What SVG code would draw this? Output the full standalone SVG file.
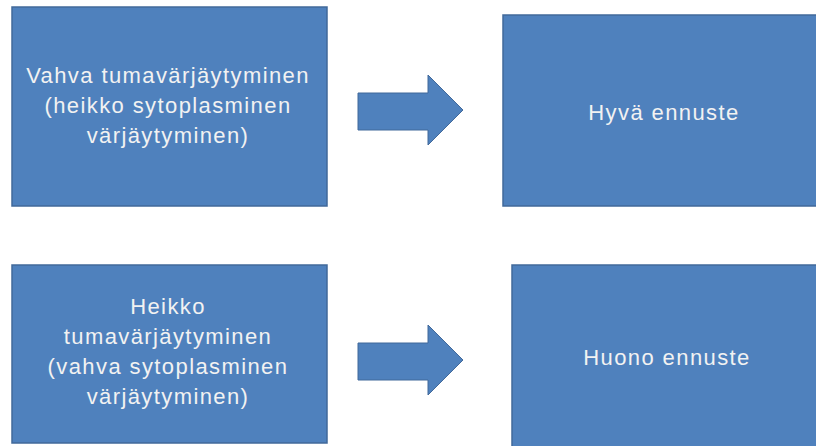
<svg xmlns="http://www.w3.org/2000/svg" width="816" height="446" viewBox="0 0 816 446">
<style>
.box{fill:#4f81bd;stroke:#41699a;stroke-width:1.5}
.arr{fill:#4f81bd;stroke:#41699a;stroke-width:1}
.t{font-family:"Liberation Sans","Open Sans",Arial,sans-serif;font-size:22px;fill:#f2f2f2;text-anchor:middle;letter-spacing:1.4px}
</style>
<rect width="816" height="446" fill="#ffffff"/>
<g id="n1">
<rect class="box" x="12" y="7" width="315" height="199"/>
<text class="t" x="168" y="83">Vahva tumavärjäytyminen</text>
<text class="t" x="168" y="113">(heikko sytoplasminen</text>
<text class="t" x="168" y="143">värjäytyminen)</text>
</g>
<g id="n2">
<rect class="box" x="503" y="15" width="314" height="191"/>
<text class="t" x="664" y="120">Hyvä ennuste</text>
</g>
<g id="n3">
<rect class="box" x="12" y="265" width="315" height="178"/>
<text class="t" x="168" y="314">Heikko</text>
<text class="t" x="168" y="344">tumavärjäytyminen</text>
<text class="t" x="168" y="374">(vahva sytoplasminen</text>
<text class="t" x="168" y="404">värjäytyminen)</text>
</g>
<g id="n4">
<rect class="box" x="512" y="265" width="306" height="183"/>
<text class="t" x="667" y="365">Huono ennuste</text>
</g>
<g id="connectors">
<polygon class="arr" points="358,93 428,93 428,75 463,110 428,145 428,130 358,130"/>
<polygon class="arr" points="358,343 428,343 428,325 463,360 428,395 428,380 358,380"/>
</g>
</svg>
